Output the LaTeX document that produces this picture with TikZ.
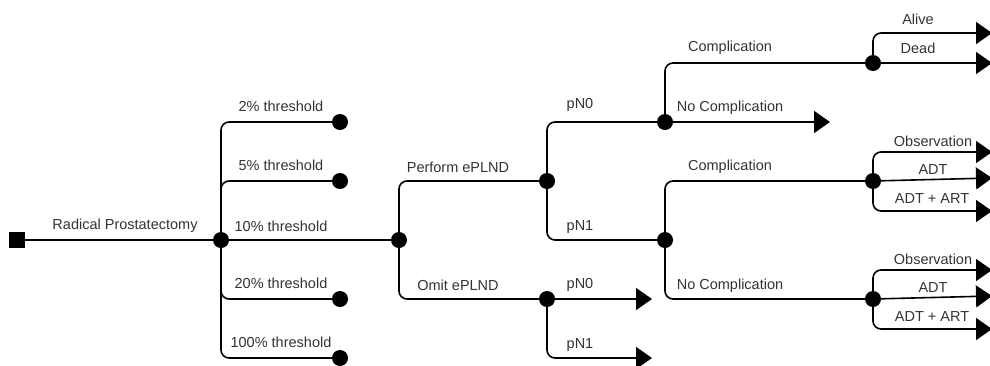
\documentclass[tikz,border=0pt]{standalone}
\usepackage{fontspec}
\setmainfont{Liberation Sans}
\usepackage{tikz}
\usetikzlibrary{arrows.meta}

\tikzset{
  chance/.style = {circle, fill, inner sep = 0pt, minimum size = 16pt},
  decision/.style = {rectangle, fill, inner sep = 0pt, minimum size = 16pt},
  branch/.style = {line width = 1.6pt, rounded corners = 8pt},
  tip/.style = {branch, -{Triangle[length = 16pt, width = 22pt]}},
  lbl/.style = {text = black!80, font = \fontsize{14.5}{16}\selectfont, inner sep = 0pt}
}

\begin{document}
\begin{tikzpicture}[x = 1pt, y = -1pt]
  \useasboundingbox (0, 0) rectangle (990, 365);
  \node[decision] at (17, 240) (rp) {};
  \node[chance] at (221, 240) (thr) {};
  \draw[branch] (rp) -- (thr);
  \node[lbl] at (125, 226) (lrp) {Radical Prostatectomy};
  \foreach \y/\p in {122/2, 181/5, 299/20, 358/100}
  {
  \node[chance] at (340, \y) (t\p) {};
  \draw[branch] (thr) |- (t\p);
  \node[lbl] at (281, {\y-16}) (l\p) {\p\% threshold};
  }
  \node[chance] at (399, 240) (t10) {};
  \draw[branch] (thr) -- (t10);
  \node[lbl] at (281, 226) (l10) {10\% threshold};
  \node[chance] at (547, 181) (pe) {};
  \node[chance] at (547, 299) (om) {};
  \draw[branch] (t10) |- (pe);
  \draw[branch] (t10) |- (om);
  \node[lbl] at (458, 167) (lpe) {Perform ePLND};
  \node[lbl] at (458, 285) (lom) {Omit ePLND};
  \node[chance] at (665, 122) (pn0) {};
  \node[chance] at (665, 240) (pn1) {};
  \draw[branch] (pe) |- (pn0);
  \draw[branch] (pe) |- (pn1);
  \node[lbl] at (580, 105) (lpn0) {pN0};
  \node[lbl] at (580, 227) (lpn1) {pN1};
  \coordinate (om0) at (652, 299);
  \coordinate (om1) at (652, 358);
  \draw[tip] (om) -- (om0);
  \draw[tip] (om) |- (om1);
  \node[lbl] at (580, 285) (lom0) {pN0};
  \node[lbl] at (580, 345) (lom1) {pN1};
  \node[chance] at (873, 63) (cu) {};
  \coordinate (ncu) at (830, 122);
  \draw[branch] (pn0) |- (cu);
  \draw[tip] (pn0) -- (ncu);
  \node[lbl] at (730, 48) (lcu) {Complication};
  \node[lbl] at (730, 108) (lncu) {No Complication};
  \coordinate (alive) at (992, 33);
  \coordinate (dead) at (992, 63);
  \draw[tip] (cu) |- (alive);
  \draw[tip] (cu) -- (dead);
  \node[lbl] at (918, 19) (lalive) {Alive};
  \node[lbl] at (918, 48) (ldead) {Dead};
  \node[chance] at (873, 181) (cl) {};
  \node[chance] at (873, 299) (ncl) {};
  \draw[branch] (pn1) |- (cl);
  \draw[branch] (pn1) |- (ncl);
  \node[lbl] at (730, 167) (lcl) {Complication};
  \node[lbl] at (730, 286) (lncl) {No Complication};
  \foreach \n/\y/\d in {cl/181/0, ncl/299/118}
  {
  \coordinate (\n obs) at (992, {152+\d});
  \coordinate (\n adt) at (992, {178+\d});
  \coordinate (\n art) at (992, {211+\d});
  \draw[tip] (\n) |- (\n obs);
  \draw[tip] (\n) -- (\n adt);
  \draw[tip] (\n) |- (\n art);
  \node[lbl] at (933, {141+\d}) (l\n obs) {Observation};
  \node[lbl] at (933, {170+\d}) (l\n adt) {ADT};
  \node[lbl] at (932, {199+\d}) (l\n art) {ADT + ART};
  }
\end{tikzpicture}
\end{document}
